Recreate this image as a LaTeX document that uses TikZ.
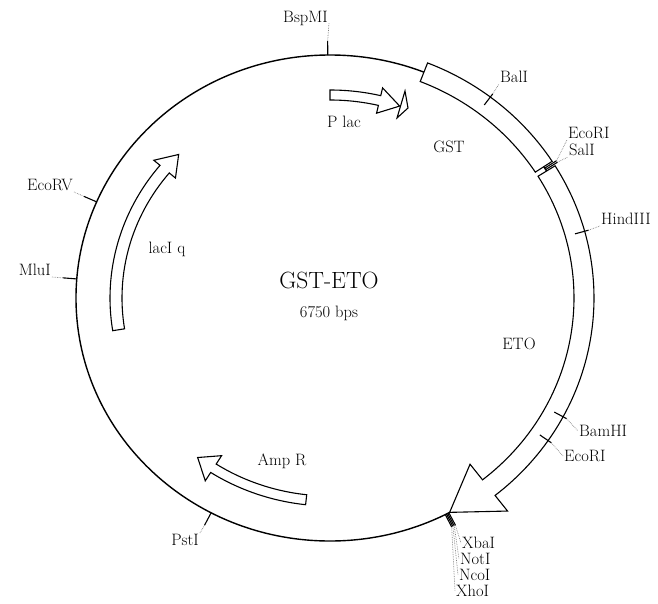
\documentclass[tikz,border=0pt]{standalone}
\usepackage{tikz}
\usetikzlibrary{arrows.meta,positioning,calc}

\begin{document}
\begin{tikzpicture}[x=1pt, y=1pt,
  feat/.style={draw, line width=1.1pt, fill=white, line join=miter},
  sitetick/.style={line width=1.1pt},
  sitelead/.style={gray, densely dotted, line width=0.7pt},
  sitelbl/.style={font=\fontsize{16.5}{19}\selectfont, inner sep=1pt},
  featlbl/.style={font=\fontsize{16.5}{19}\selectfont}]
\useasboundingbox (-330,-305) rectangle (328,298);
\draw[line width=1.4pt] (0,0) ellipse [x radius=254, y radius=243];
\draw[feat] (68.3:264 and 253) arc[start angle=68.3, end angle=32.7, x radius=264, y radius=253]
  -- (32.7:244 and 233) arc[start angle=32.7, end angle=68.3, x radius=244, y radius=233] -- cycle;
\draw[feat] (31.5:264 and 253) arc[start angle=31.5, end angle=-51.3, x radius=264, y radius=253]
  -- (-51.3:284 and 273) -- (-61.9:254 and 243) -- (-51.3:224 and 213)
  -- (-51.3:244 and 233) arc[start angle=-51.3, end angle=31.5, x radius=244, y radius=233] -- cycle;
\draw[feat] (90:219 and 208) arc[start angle=90, end angle=76.6, x radius=219, y radius=208]
  -- (76.6:227 and 216) -- (71:214 and 203) -- (76.6:201 and 190)
  -- (76.6:209 and 198) arc[start angle=76.6, end angle=90, x radius=209, y radius=198] -- cycle;
\draw[feat] (75,207) -- (78,190) -- (67,180) -- cycle;
\draw[feat] (189:220 and 209) arc[start angle=189, end angle=140.6, x radius=220, y radius=209]
  -- (140.6:228 and 217) -- (135:214 and 203) -- (140.6:200 and 189)
  -- (140.6:208 and 197) arc[start angle=140.6, end angle=189, x radius=208, y radius=197] -- cycle;
\draw[feat] (263.6:219 and 208) arc[start angle=263.6, end angle=237, x radius=219, y radius=208]
  -- (237:229 and 218) -- (231.8:214 and 203) -- (237:199 and 188)
  -- (237:209 and 198) arc[start angle=237, end angle=263.6, x radius=209, y radius=198] -- cycle;
\foreach \a/\s/\n/\anc/\lx/\ly in {
  90.5/bsp/BspMI/base east/-1/275, 52.6/bal/BalI/south west/169/214,
  32.3/ecoa/EcoRI/south west/237/158, 31.9/sal/SalI/south west/238/141,
  15.3/hind/HindIII/south west/270/72, -28/bam/BamHI/west/248/-133,
  -34.3/ecob/EcoRI/west/233/-158, -62.1/xba/XbaI/west/131/-245,
  -62.4/not/NotI/west/129/-261, -62.7/nco/NcoI/west/128/-277,
  -63/xho/XhoI/west/125/-293, 242.1/pst/PstI/north east/-130/-235,
  156.7/ecorv/EcoRV/south east/-256/106, 175.5/mlu/MluI/south east/-278/21} {
  \coordinate (t\s) at (\a:268 and 257);
  \draw[sitetick] (\a:254 and 243) -- (t\s);
  \node[sitelbl, anchor=\anc] (l\s) at (\lx,\ly) {\n};
  \draw[sitelead] (t\s) -- (l\s.\anc);
}
\node[featlbl] (plac) at (14,176) {P lac};
\node[featlbl] (gst) at (119,151) {GST};
\node[featlbl] (eto) at (189,-46) {ETO};
\node[featlbl] (laci) at (-163,49) {lacI q};
\node[featlbl] (ampr) at (-48,-163) {Amp R};
\node[font=\fontsize{23.5}{28}\selectfont] (title) at (-1,18) {GST-ETO};
\node[featlbl] (size) at (-1,-15) {6750 bps};
\end{tikzpicture}
\end{document}
